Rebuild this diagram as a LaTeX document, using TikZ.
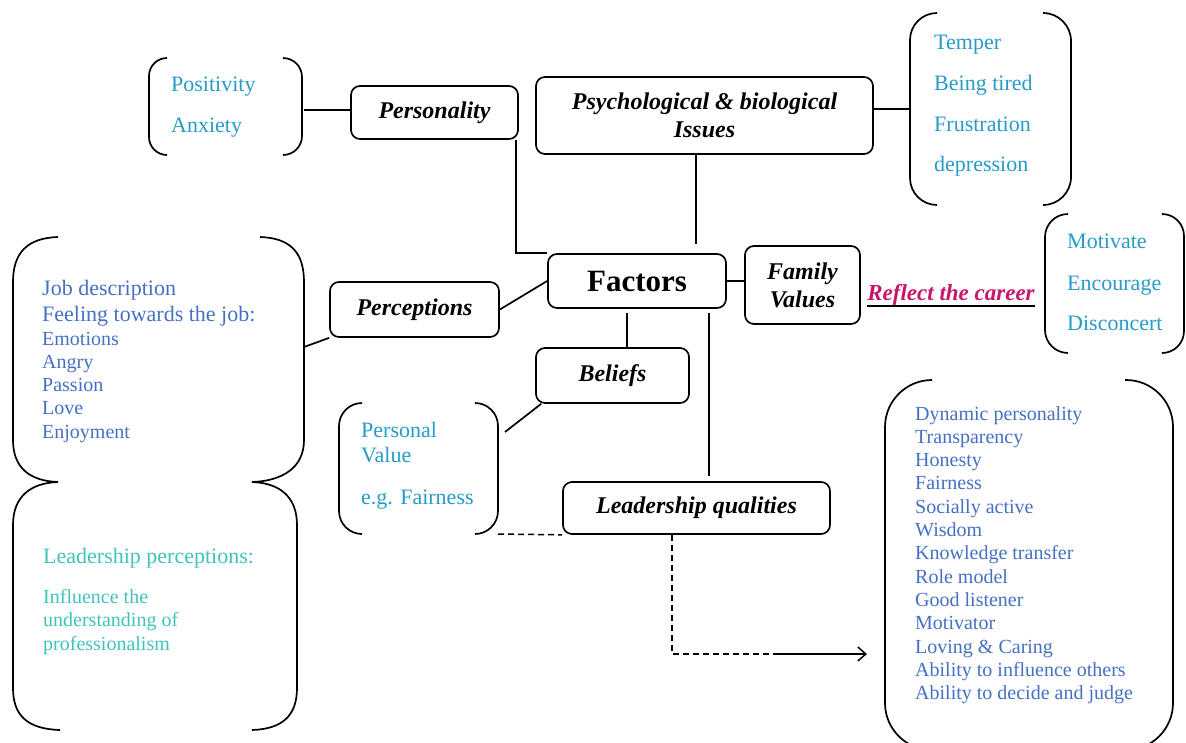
\documentclass[tikz,border=0pt]{standalone}
\usepackage{fontspec}
\setmainfont{Liberation Serif}
\usetikzlibrary{arrows.meta}

\definecolor{itemteal}{RGB}{38,156,200}
\definecolor{itemblue}{RGB}{70,112,196}
\definecolor{itemaqua}{RGB}{64,196,186}
\definecolor{careerpink}{RGB}{200,22,110}

\tikzset{
  factorbox/.style={draw, line width=1.7pt, rounded corners=9pt, inner sep=0pt,
    align=center, font=\fontsize{24}{28}\selectfont\bfseries\itshape},
  link/.style={line width=1.7pt},
  brace/.style={line width=1.7pt, rounded corners=#1},
  brace/.default=20pt,
  dashlink/.style={line width=1.5pt, dash pattern=on 6pt off 4pt},
  bigitem/.style={anchor=base west, inner sep=0pt, font=\fontsize{22}{26}\selectfont},
  smallitem/.style={anchor=base west, inner sep=0pt, font=\fontsize{20}{24}\selectfont},
}

\begin{document}
\begin{tikzpicture}[x=1pt,y=-1pt]
\clip (0,0) rectangle (1186,742);
\fill[white] (0,0) rectangle (1186,742);

% ---------- factor boxes ----------
\node[factorbox, minimum width=167pt, minimum height=53pt] (personality) at (434.5,112.5) {Personality};
\node[factorbox, minimum width=337pt, minimum height=77pt] (psych) at (704.5,115.5) {Psychological \& biological\\Issues};
\node[factorbox, minimum width=178pt, minimum height=54pt, font=\fontsize{31}{34}\selectfont\bfseries] (factors) at (637,281) {Factors};
\node[factorbox, minimum width=169pt, minimum height=55pt] (perceptions) at (414.5,309.5) {Perceptions};
\node[factorbox, minimum width=115pt, minimum height=78pt] (family) at (802.5,285) {Family\\Values};
\node[factorbox, minimum width=153pt, minimum height=55pt] (beliefs) at (612.5,375.5) {Beliefs};
\node[factorbox, minimum width=267pt, minimum height=52pt] (leadership) at (696.5,508) {Leadership qualities};

% ---------- bracket groups ----------
% Positivity / Anxiety
\draw[brace=18pt] (167,58) -- (149,58) -- (149,155) -- (167,155);
\draw[brace=19pt] (283,58) -- (302,58) -- (302,155) -- (283,155);
\node[bigitem, text=itemteal] (positivity) at (171,91) {Positivity};
\node[bigitem, text=itemteal] (anxiety) at (171,132) {Anxiety};
\coordinate (posbrace) at (304,110);

% Temper ... depression
\draw[brace=27pt] (937,13) -- (910,13) -- (910,205) -- (937,205);
\draw[brace=28pt] (1043,13) -- (1071,13) -- (1071,205) -- (1043,205);
\node[bigitem, text=itemteal] (temper) at (934,49) {Temper};
\node[bigitem, text=itemteal] (tired) at (934,90) {Being tired};
\node[bigitem, text=itemteal] (frustration) at (934,131) {Frustration};
\node[bigitem, text=itemteal] (depression) at (934,171) {depression};
\coordinate (tempbrace) at (910,109);

% Motivate / Encourage / Disconcert
\draw[brace=23pt] (1068,214) -- (1045,214) -- (1045,353) -- (1068,353);
\draw[brace=22pt] (1163,214) -- (1184,214) -- (1184,353) -- (1163,353);
\node[bigitem, text=itemteal] (motivate) at (1067,248) {Motivate};
\node[bigitem, text=itemteal] (encourage) at (1067,290) {Encourage};
\node[bigitem, text=itemteal] (disconcert) at (1067,330) {Disconcert};

% Personal value
\draw[brace=23pt] (362,403) -- (339,403) -- (339,534) -- (362,534);
\draw[brace=23pt] (475,403) -- (498,403) -- (498,534) -- (475,534);
\node[bigitem, text=itemteal] (personal) at (361,437) {Personal};
\node[bigitem, text=itemteal] (value) at (361,462) {Value};
\node[bigitem, text=itemteal] (fairness) at (361,504) {e.g. Fairness};
\coordinate (persbrace) at (505,432);
\coordinate (persfoot) at (498,534);

% Job description / leadership perceptions (double brace)
\draw[link] (58,237) .. controls (28,238) and (13,252) .. (13,282) -- (13,440)
  .. controls (13,468) and (30,481) .. (58,482)
  .. controls (30,483) and (13,497) .. (13,525) -- (13,688)
  .. controls (13,716) and (28,729) .. (60,730);
\draw[link] (260,237) .. controls (290,238) and (304,252) .. (304,282) -- (304,440)
  .. controls (304,468) and (282,481) .. (252,482)
  .. controls (280,483) and (297,497) .. (297,525) -- (297,688)
  .. controls (297,716) and (282,729) .. (252,730);
\node[bigitem, text=itemblue] (jobdesc) at (42,295) {Job description};
\node[bigitem, text=itemblue] (feeling) at (42,321) {Feeling towards the job:};
\foreach \t [count=\i] in {Emotions, Angry, Passion, Love, Enjoyment}
  \node[smallitem, text=itemblue] (emo-\i) at (42,{345+23.3*(\i-1)}) {\t};
\node[bigitem, text=itemaqua] (leadperc) at (43,563) {Leadership perceptions:};
\node[smallitem, text=itemaqua] (influence) at (43,603) {Influence the};
\node[smallitem, text=itemaqua] (understanding) at (43,626.5) {understanding of};
\node[smallitem, text=itemaqua] (professionalism) at (43,650) {professionalism};
\coordinate (jobbrace) at (304,347);

% Leadership qualities list
\draw[brace=47pt] (932,380) -- (885,380) -- (885,750) -- (932,750);
\draw[brace=47pt] (1125,380) -- (1173,380) -- (1173,750) -- (1125,750);
\foreach \t [count=\i] in {Dynamic personality, Transparency, Honesty, Fairness,
    Socially active, Wisdom, Knowledge transfer, Role model, Good listener,
    Motivator, Loving \& Caring, Ability to influence others, Ability to decide and judge}
  \node[smallitem, text=itemblue] (quality-\i) at (915,{420+23.3*(\i-1)}) {\t};

% ---------- connectors ----------
\draw[link] (posbrace) -- (posbrace -| personality.west);
\draw[link] ([xshift=-3pt]personality.south east) |- (factors.north west);
\coordinate (psychfoot) at (696,244);
\draw[link] (psych.south -| psychfoot) -- (psychfoot);
\draw[link] (psych.east |- tempbrace) -- (tempbrace);
\draw[link] (perceptions.east) -- (factors.west);
\draw[link] (jobbrace) -- (perceptions.south west);
\draw[link] (factors.east) -- (factors.east -| family.west);
\coordinate (beltop) at (627,313);
\draw[link] (beltop) -- (beltop |- beliefs.north);
\coordinate (leadtop) at (709,313);
\draw[link, shorten >=5pt] (leadtop) -- (leadtop |- leadership.north);
\draw[link] (persbrace) -- ([xshift=6pt]beliefs.south west);
\draw[dashlink] (persfoot) -- (leadership.south west);

% Leadership qualities -> list
\coordinate (bend) at (672,654);
\coordinate (solidstart) at (773,654);
\coordinate (tip) at (867,654);
\draw[dashlink] (leadership.south -| bend) -- (bend) -- (solidstart);
\draw[link, -{Straight Barb[length=8pt, width=14pt, line width=1.5pt]}] (solidstart) -- (tip);

% Family values -> reflect the career
\node[inner sep=0pt, text=careerpink, font=\fontsize{23}{26}\selectfont\bfseries\itshape, anchor=base]
  (reflect) at (951,300) {Reflect the career};
\draw[link] ([yshift=-6pt]reflect.base west) -- ([yshift=-6pt]reflect.base east);

\end{tikzpicture}
\end{document}
